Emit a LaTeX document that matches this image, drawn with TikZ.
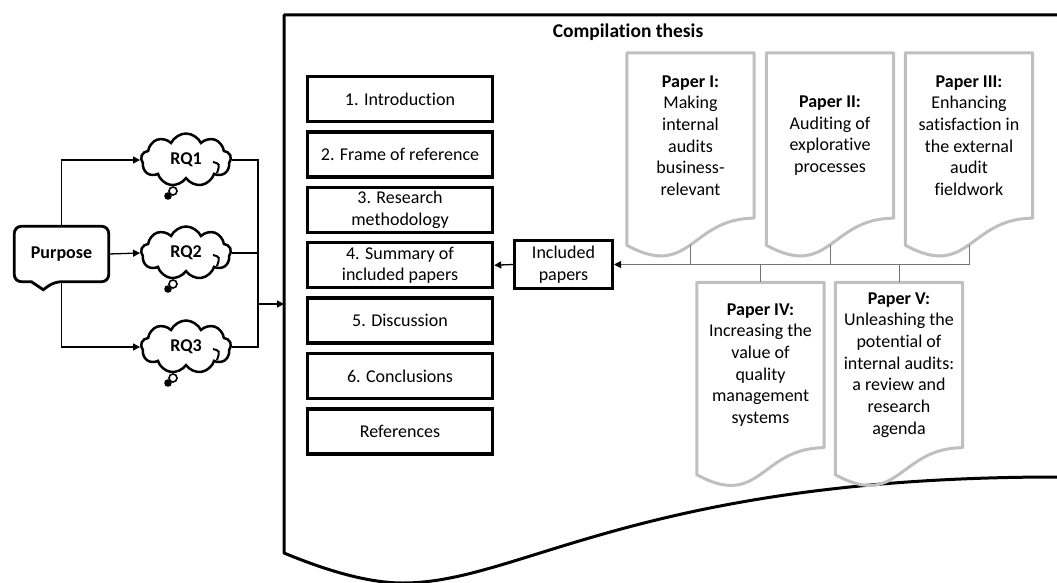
\documentclass[tikz,border=0pt]{standalone}
\usepackage{fontspec}
\setmainfont{Carlito}[Ligatures=NoCommon]
\usetikzlibrary{shapes.symbols,arrows.meta,calc}
\begin{document}
\begin{tikzpicture}[x=1pt,y=-1pt,
  txt/.style={font=\fontsize{18}{21.7}\selectfont, align=center, text=black},
  bold/.style={font=\fontsize{18}{21.7}\selectfont\bfseries},
  chapter/.style={txt, draw=black, line width=3.5pt, minimum width=185, minimum height=45, inner sep=0pt},
  paper/.style={txt, minimum width=127, minimum height=165, inner sep=0pt},
  docline/.style={draw=black!25, line width=3pt, line join=round},
  rq/.style={txt, bold, cloud, cloud puffs=9, cloud puff arc=130,
    aspect=1.75, draw=black, line width=2.5pt, minimum width=90, minimum height=53, inner sep=0pt},
  arr/.style={line width=1.3pt, -{Triangle[length=7pt,width=7pt]}},
  link/.style={line width=1.3pt},
  busline/.style={draw=black!55, line width=1pt},
  frameline/.style={line width=3pt, line join=round},
]
\useasboundingbox (0,0) rectangle (1057,583);

% outer document frame of the thesis
\draw[frameline] (1057,15) -- (284,15) -- (284,553)
  .. controls (330,572) and (370,583) .. (403,583)
  .. controls (520,583) and (640,477) .. (1057,477);
\coordinate (frameL) at (284,304);

\node[txt, font=\fontsize{19.5}{23}\selectfont\bfseries] (title) at (628,32) {Compilation thesis};

% purpose callout
\node[txt, bold, minimum width=94, minimum height=55, inner sep=0pt] (purp) at (61.5,254) {Purpose};
\draw[line width=2.8pt, rounded corners=7pt] (purp.north) -- (purp.north east) -- (purp.south east)
  -- ($(purp.south west)+(40,0)$) [sharp corners] -- ($(purp.south west)+(29,8)$) -- ($(purp.south west)+(17,0)$)
  [rounded corners=7pt] -- (purp.south west) -- (purp.north west) -- cycle;

% research questions
\node[rq] (rq1) at (186,160) {RQ1};
\node[rq] (rq2) at (186,253) {RQ2};
\node[rq] (rq3) at (186,347) {RQ3};
\foreach \n in {rq1,rq2,rq3}{
  \draw[line width=2pt] ($(\n.center)+(27,2)$) .. controls ($(\n.center)+(34,4)$) .. ($(\n.center)+(31,13)$);
  \draw[line width=1.6pt, fill=white] ($(\n.center)+(-13,31)$) circle[radius=4pt];
  \fill ($(\n.center)+(-18,36)$) circle[radius=3.8pt];
}

\draw[arr] (purp.north) |- (rq1.west);
\draw[arr] (purp.east) -- (rq2.west);
\draw[arr] (purp.south) |- (rq3.west);

\coordinate (jn) at (258,304);
\draw[link] (rq1.east) -| (jn);
\draw[link] (rq3.east) -| (jn);
\draw[link] (rq2.east) -- (rq2.east -| jn);
\draw[arr] (jn) -- (frameL);

% chapters
\node[chapter] (ch1) at (400,99) {1. Introduction};
\node[chapter] (ch2) at (400,154.4) {2. Frame of reference};
\node[chapter] (ch3) at (400,209.8) {3. Research\\methodology};
\node[chapter] (ch4) at (400,265.2) {4. Summary of\\included papers};
\node[chapter] (ch5) at (400,320.6) {5. Discussion};
\node[chapter] (ch6) at (400,376) {6. Conclusions};
\node[chapter] (ch7) at (400,431.4) {References};

\node[txt, draw=black, line width=3pt, minimum width=98, minimum height=48, inner sep=0pt] (inc) at (563.5,264.5) {Included\\papers};
\draw[arr] (inc.west) -- (ch4.east);

% papers
\node[paper] (pI)   at (690.5,135.5) {\textbf{Paper I:}\\Making\\internal\\audits\\business-\\relevant};
\node[paper] (pII)  at (830,135.5)   {\textbf{Paper II:}\\Auditing of\\explorative\\processes};
\node[paper] (pIII) at (969,135.5)   {\textbf{Paper III:}\\Enhancing\\satisfaction in\\the external\\audit\\fieldwork};
\node[paper] (pIV)  at (760.5,365)   {\textbf{Paper IV:}\\Increasing the\\value of\\quality\\management\\systems};
\node[paper] (pV)   at (899,365)     {\textbf{Paper V:}\\Unleashing the\\potential of\\internal audits:\\a review and\\research\\agenda};
\foreach \n in {pI,pII,pIII,pIV,pV}{
  \draw[docline] (\n.north west) -- (\n.north east) -- (\n.south east)
    .. controls (\n.south) and ($(\n.south)+(0,62)$) .. ($(\n.south west)+(0,27)$) -- cycle;
}

% links from the papers
\foreach \n in {pI,pII}{
  \draw[busline] ($(\n.south)+(0,27)$) -- (\n.south |- inc.east);
}
\foreach \n in {pIV,pV}{
  \draw[busline] (\n.north) -- (\n.north |- inc.east);
}
\draw[busline, -{Triangle[length=7pt,width=7pt,color=black]}] ($(pIII.south)+(0,27)$) |- (inc.east);
\end{tikzpicture}
\end{document}
